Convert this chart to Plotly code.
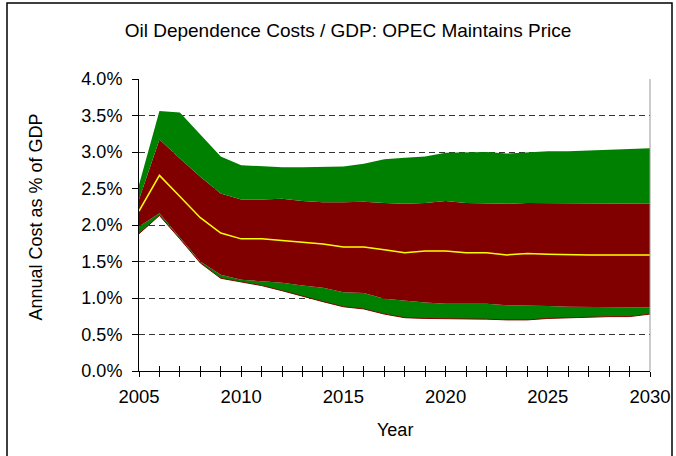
import plotly.graph_objects as go

# values in % of GDP
years = list(range(2005, 2031))
green_top = [2.55, 3.56, 3.54, 3.24, 2.94, 2.82, 2.80, 2.79, 2.79, 2.79, 2.80, 2.84, 2.90,
             2.92, 2.94, 2.99, 2.99, 3.00, 2.98, 3.00, 3.01, 3.01, 3.02, 3.03, 3.03, 3.05]
red_top = [2.35, 3.17, 2.91, 2.66, 2.43, 2.35, 2.35, 2.36, 2.33, 2.31, 2.31, 2.32, 2.30,
           2.29, 2.30, 2.33, 2.30, 2.29, 2.29, 2.30, 2.30, 2.29, 2.29, 2.29, 2.29, 2.29]
median = [2.19, 2.68, 2.39, 2.10, 1.89, 1.81, 1.81, 1.79, 1.76, 1.74, 1.70, 1.70, 1.66,
          1.62, 1.645, 1.645, 1.62, 1.62, 1.59, 1.61, 1.60, 1.59, 1.59, 1.59, 1.59, 1.59]
red_bot = [1.98, 2.16, 1.83, 1.50, 1.32, 1.25, 1.23, 1.21, 1.17, 1.14, 1.08, 1.07, 0.99,
           0.96, 0.94, 0.92, 0.92, 0.92, 0.90, 0.90, 0.89, 0.88, 0.88, 0.88, 0.87, 0.87]
green_bot = [1.88, 2.13, 1.81, 1.48, 1.27, 1.22, 1.17, 1.10, 1.02, 0.95, 0.88, 0.85, 0.78,
             0.73, 0.72, 0.72, 0.71, 0.71, 0.70, 0.70, 0.72, 0.73, 0.73, 0.745, 0.745, 0.78]

GREEN = '#008000'
RED = '#800000'
YELLOW = '#FFFF00'
FONT = 'Liberation Sans, Arial, sans-serif'

# plot area in pixels
L, R, T, B = 139, 650, 79, 371
W, H = 676, 456
PW, PH = R - L, B - T

def pct(v):
    return [x / 100 for x in v]

def px_x(p):
    return (p - L) / PW

def px_y(p):
    return (B - p) / PH

fig = go.Figure()
fig.add_trace(go.Scatter(x=years, y=pct(green_bot), mode='lines',
                         line=dict(color=RED, width=1), showlegend=False, hoverinfo='skip'))
fig.add_trace(go.Scatter(x=years, y=pct(red_bot), mode='lines', fill='tonexty',
                         fillcolor=GREEN, line=dict(color=RED, width=0), showlegend=False))
fig.add_trace(go.Scatter(x=years, y=pct(red_top), mode='lines', fill='tonexty',
                         fillcolor=RED, line=dict(color=RED, width=0), showlegend=False))
fig.add_trace(go.Scatter(x=years, y=pct(green_top), mode='lines', fill='tonexty',
                         fillcolor=GREEN, line=dict(color=GREEN, width=0), showlegend=False))
fig.add_trace(go.Scatter(x=years, y=pct(median), mode='lines',
                         line=dict(color=YELLOW, width=1.5), showlegend=False))
# invisible trace on an overlay axis -> ticks crossing the x axis
fig.add_trace(go.Scatter(x=[2005, 2030], y=[0, 0], xaxis='x2', mode='none',
                         showlegend=False, hoverinfo='skip'))

fig.update_layout(
    width=W, height=H,
    paper_bgcolor='white', plot_bgcolor='white',
    margin=dict(l=L, r=W - R, t=T, b=H - B),
    font=dict(family=FONT, size=18, color='black'),
    title=dict(text='Oil Dependence Costs / GDP: OPEC Maintains Price',
               x=348 / W, xanchor='center', y=1 - 30 / H, yanchor='middle',
               font=dict(size=19)),
    xaxis=dict(range=[2005, 2030], tickvals=years, automargin=False,
               ticktext=[str(y) if y % 5 == 0 else '' for y in years],
               ticks='outside', ticklen=5, tickcolor='black', ticklabelstandoff=4,
               tickfont=dict(size=18.5), showline=True,
               linecolor='black', linewidth=1, showgrid=False, zeroline=False),
    xaxis2=dict(range=[2005, 2030], overlaying='x', tickvals=years, automargin=False,
                ticks='inside', ticklen=5, tickcolor='black', showticklabels=False,
                showgrid=False, zeroline=False, showline=False, side='bottom'),
    yaxis=dict(range=[0, 0.04], dtick=0.005, tickformat='.1%', ticks='outside',
               automargin=False, ticklen=6, tickcolor='black', ticklabelstandoff=6,
               showline=True, linecolor='black', linewidth=1, showgrid=True,
               gridcolor='#333333', griddash='6px,4px', gridwidth=1, zeroline=False),
    annotations=[
        dict(text='Annual Cost as % of GDP', xref='paper', yref='paper',
             x=px_x(35.5), y=px_y(217), textangle=-90, showarrow=False,
             xanchor='center', yanchor='middle', font=dict(size=18)),
        dict(text='Year', xref='paper', yref='paper', x=px_x(394.5), y=px_y(429.5),
             showarrow=False, xanchor='center', yanchor='middle', font=dict(size=18)),
    ],
    shapes=[
        # plot area right edge
        dict(type='line', xref='paper', yref='paper', x0=1, x1=1, y0=0, y1=1,
             line=dict(color='#999999', width=1)),
        # chart border
        dict(type='rect', xref='paper', yref='paper',
             x0=px_x(7), x1=px_x(672), y0=px_y(460), y1=px_y(3),
             line=dict(color='black', width=1.5), layer='below'),
    ],
)

fig.write_html('out.html', config={'displayModeBar': False},
               post_script="document.body.style.margin='0';")
